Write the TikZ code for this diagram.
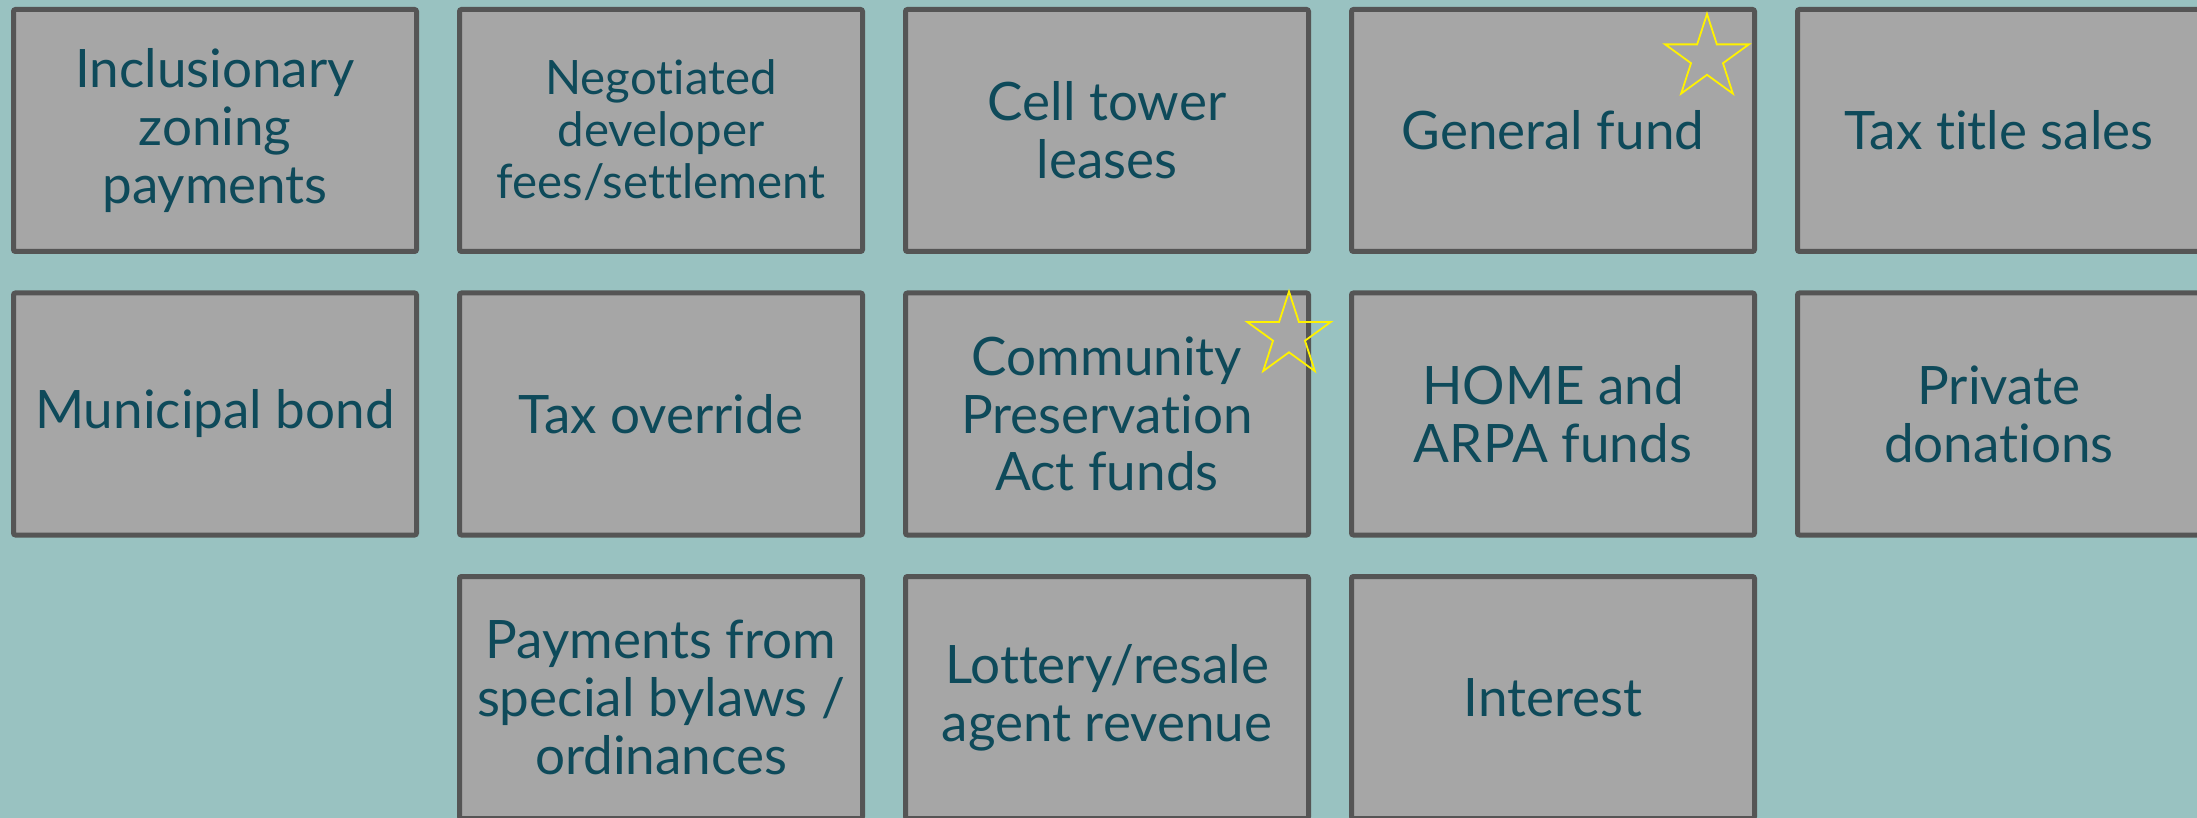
\documentclass[tikz,border=0pt]{standalone}
\usepackage{fontspec}
\setmainfont{Lato}[Ligatures={NoCommon,NoContextual},Contextuals=NoAlternate]
\usetikzlibrary{positioning,shapes.geometric}

\definecolor{seafoam}{RGB}{153,194,193}
\definecolor{boxgray}{RGB}{166,166,166}
\definecolor{edgegray}{RGB}{85,85,85}
\definecolor{inkteal}{RGB}{14,74,90}

\begin{document}
\begin{tikzpicture}[node distance=18.25pt and 19pt,
  fundbox/.style = {rectangle, draw=edgegray, fill=boxgray,
    line width=2.5pt, rounded corners=1pt, align=center,
    minimum width=201.5pt, minimum height=121pt, inner sep=0pt,
    text=inkteal, font=\fontsize{26.5}{28.9}\selectfont},
  fundstar/.style = {star, star points=5, star point ratio=2.618,
    draw=yellow, line width=0.9pt, minimum size=44pt, inner sep=0pt}]

  % backdrop, also fixes the page size
  \fill[seafoam] (0,0) rectangle (1098.5pt,-409pt);
  \useasboundingbox (0,0) rectangle (1098.5pt,-409pt);

  % first row
  \node[fundbox] (inclusionary) at (107.5pt,-65.25pt)
    {Inclusionary\\zoning\\payments};
  \node[fundbox, right=of inclusionary, font=\fontsize{23.7}{26}\selectfont]
    (negotiated) {Negotiated\\developer\\fees/settlement};
  \node[fundbox, right=of negotiated] (celltower) {Cell tower\\leases};
  \node[fundbox, right=of celltower] (general) {General fund};
  \node[fundbox, right=of general] (taxtitle) {Tax title sales};

  % second row
  \node[fundbox, below=of inclusionary] (bond) {Municipal bond};
  \node[fundbox, right=of bond] (override) {Tax override};
  \node[fundbox, right=of override] (cpa) {Community\\Preservation\\Act funds};
  \node[fundbox, right=of cpa] (home) {HOME and\\ARPA funds};
  \node[fundbox, right=of home] (donations) {Private\\donations};

  % third row
  \node[fundbox, below=of override] (bylaws)
    {Payments from\\special bylaws /\\ordinances};
  \node[fundbox, right=of bylaws] (lottery) {Lottery/resale\\agent revenue};
  \node[fundbox, right=of lottery] (interest) {Interest};

  % highlight marks
  \node[fundstar] (generalstar) at ([shift={(-25pt,-25.5pt)}]general.north east) {};
  \node[fundstar] (cpastar) at ([shift={(-11pt,-22.5pt)}]cpa.north east) {};
\end{tikzpicture}
\end{document}
